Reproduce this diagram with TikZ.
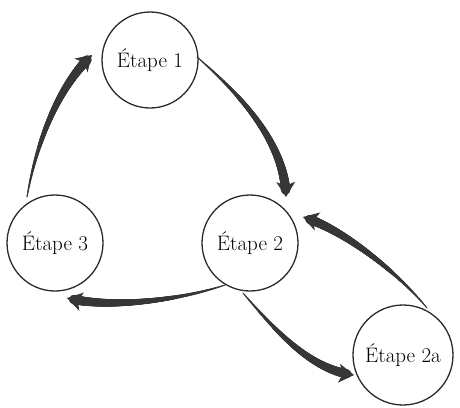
\documentclass[tikz,border=0pt]{standalone}
\usetikzlibrary{calc,decorations.markings,arrows.meta}
\definecolor{arrowgray}{HTML}{363636}
\definecolor{ringgray}{HTML}{2A2A2A}
\tikzset{
  stage/.style={circle, draw=ringgray, line width=1.3pt, minimum size=96pt, inner sep=0pt,
    font=\fontsize{21}{24}\selectfont},
  taper/.style={
    postaction={decorate, decoration={markings,
      mark=between positions 0 and -8pt step 0.4pt with {
        \pgfmathsetmacro\tr{0.55+4.4*\pgfkeysvalueof{/pgf/decoration/mark info/distance from start}/\pgfdecoratedpathlength}
        \fill[arrowgray] (0,0) circle (\tr pt);
      }}},
    postaction={decorate, decoration={markings,
      mark=at position 0.999 with {\fill[arrowgray] (0.2pt,0) -- (-15pt,9.5pt) -- (-11pt,0) -- (-15pt,-9.5pt) -- cycle;}}}
  }
}
\begin{document}
\begin{tikzpicture}[x=1pt,y=-1pt]
\useasboundingbox (0,0) rectangle (460,407);
\node[stage] (e1) at (150,60) {Étape 1};
\node[stage] (e2) at (250,243) {Étape 2};
\node[stage] (e3) at (55,243) {Étape 3};
\node[stage, minimum size=100pt] (e2a) at (403,355) {Étape 2a};

\coordinate (s1) at ($(e1)+(47,-3)$);
\coordinate (t1) at ($(e2)+(36,-46)$);
\coordinate (s2) at ($(e2)+(-25,42)$);
\coordinate (t2) at ($(e3)+(12,55)$);
\coordinate (s3) at ($(e2)+(-7,50)$);
\coordinate (t3) at ($(e2a)+(-49,20)$);
\coordinate (s4) at ($(e2a)+(24,-47)$);
\coordinate (t4) at ($(e2)+(53,-26)$);
\coordinate (s5) at ($(e3)+(-28,-46)$);
\coordinate (t5) at ($(e1)+(-58,-5)$);

\path[taper] (s1) .. controls +(38,33) and +(-1,-57) .. (t1);
\path[taper] (s2) .. controls +(-45,15) and +(43,11) .. (t2);
\path[taper] (s3) .. controls +(32,37) and +(-44,-5) .. (t3);
\path[taper] (s4) .. controls +(-27,-33) and +(42,13) .. (t4);
\path[taper] (s5) .. controls +(8,-47) and +(-37,35) .. (t5);
\end{tikzpicture}
\end{document}
